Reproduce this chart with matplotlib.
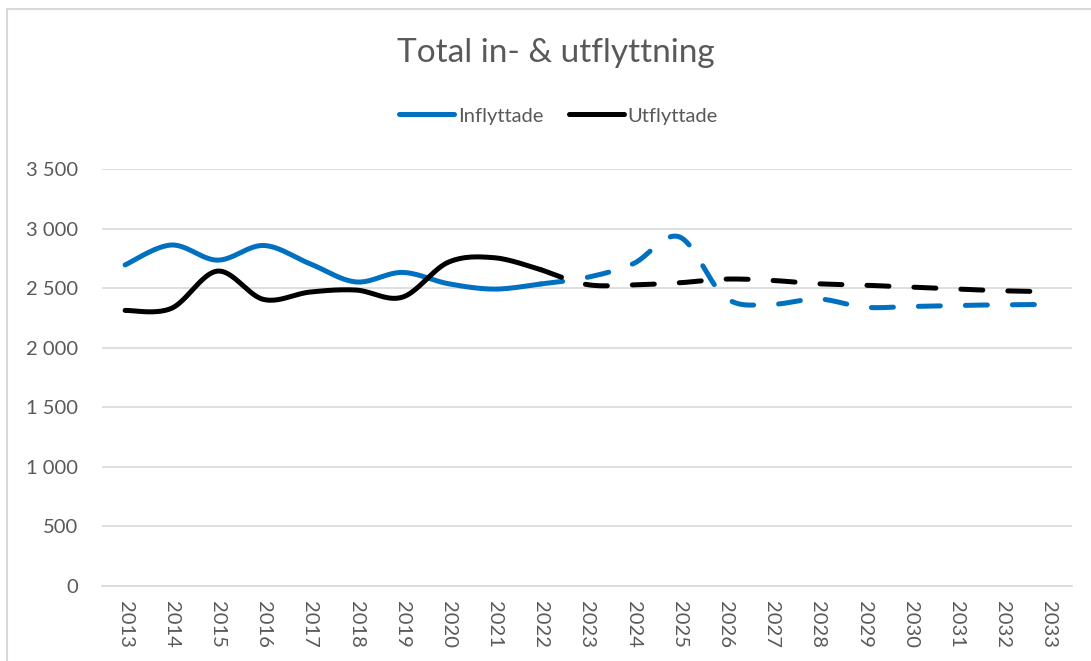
import numpy as np
import matplotlib
matplotlib.use("Agg")
from matplotlib import pyplot as plt
from matplotlib.patches import Rectangle

years = [str(y) for y in range(2013, 2034)]

# history 2013-2022, forecast 2022-2033 (shares the 2022 point)
infl_hist = [2695, 2862, 2735, 2858, 2705, 2552, 2632, 2537, 2492, 2535]
utfl_hist = [2313, 2330, 2643, 2405, 2467, 2484, 2424, 2718, 2755, 2655]
infl_prog = [2535, 2590, 2705, 2930, 2420, 2365, 2410, 2340, 2346, 2355, 2360, 2363]
utfl_prog = [2655, 2530, 2528, 2545, 2576, 2565, 2537, 2525, 2508, 2492, 2478, 2470]

blue = '#0070C0'
grey_text = '#595959'
grid_col = '#D9D9D9'

plt.rcParams['font.family'] = ['Lato', 'DejaVu Sans']


def smooth(x, y, n=40):
    # Excel-like smoothed line (Catmull-Rom bezier)
    x = np.asarray(x, float)
    y = np.asarray(y, float)
    px = np.concatenate([[x[0]], x, [x[-1]]])
    py = np.concatenate([[y[0]], y, [y[-1]]])
    xs, ys = [], []
    t = np.linspace(0, 1, n)
    for i in range(1, len(px) - 2):
        p0 = np.array([px[i], py[i]])
        p3 = np.array([px[i + 1], py[i + 1]])
        p1 = p0 + (np.array([px[i + 1], py[i + 1]]) - np.array([px[i - 1], py[i - 1]])) / 6
        p2 = p3 - (np.array([px[i + 2], py[i + 2]]) - np.array([px[i], py[i]])) / 6
        b = ((1 - t) ** 3)[:, None] * p0 + (3 * (1 - t) ** 2 * t)[:, None] * p1 \
            + (3 * (1 - t) * t ** 2)[:, None] * p2 + (t ** 3)[:, None] * p3
        xs.append(b[:, 0])
        ys.append(b[:, 1])
    return np.concatenate(xs), np.concatenate(ys)


fig = plt.figure(figsize=(10.91, 6.61), dpi=100)
fig.patches.append(Rectangle((7 / 1091, -0.1), 1.2, 1 - 8.5 / 661 + 0.1,
                             transform=fig.transFigure, fill=False,
                             edgecolor=grid_col, linewidth=1.5))

ax = fig.add_axes([102 / 1091, (661 - 586) / 661, 970 / 1091, 417 / 661])

n_hist = len(infl_hist)
xh = np.arange(n_hist)
xp = np.arange(n_hist - 1, len(years))

lw = 3.6
for yh, yp, col, lab in [(infl_hist, infl_prog, blue, 'Inflyttade'),
                         (utfl_hist, utfl_prog, 'black', 'Utflyttade')]:
    sx, sy = smooth(xh, yh)
    ax.plot(sx, sy, color=col, lw=lw, solid_capstyle='round', label=lab)
    sx, sy = smooth(xp, yp)
    line, = ax.plot(sx, sy, color=col, lw=lw, dash_capstyle='round')
    line.set_dashes([4.4, 5.0])

ax.set_xlim(-0.5, len(years) - 0.5)
ax.set_ylim(0, 3500)
ax.set_yticks(range(0, 3501, 500))
ax.set_yticklabels([f'{v:,}'.replace(',', ' ') for v in range(0, 3501, 500)])
ax.set_xticks(range(len(years)))
ax.set_xticklabels(years, rotation=-90, va='top', ha='center')
ax.grid(axis='y', color=grid_col, lw=1.2)
ax.set_axisbelow(True)
for s in ['top', 'right', 'left']:
    ax.spines[s].set_visible(False)
ax.spines['bottom'].set_color(grid_col)
ax.spines['bottom'].set_linewidth(1.2)
ax.tick_params(axis='both', length=0, colors=grey_text, labelsize=14.5)
ax.tick_params(axis='y', pad=17)
ax.tick_params(axis='x', pad=11)

fig.text(0.509, 1 - 53 / 661, 'Total in- & utflyttning', ha='center', va='center',
         fontsize=24, color=grey_text)

leg = fig.legend(loc='center', bbox_to_anchor=(0.512, 1 - 116 / 661), ncol=2,
                 frameon=False, fontsize=14.5, handlelength=2.7, handletextpad=0.2,
                 columnspacing=1.3)
for t in leg.get_texts():
    t.set_color(grey_text)

fig.savefig('out.png', dpi=100)
